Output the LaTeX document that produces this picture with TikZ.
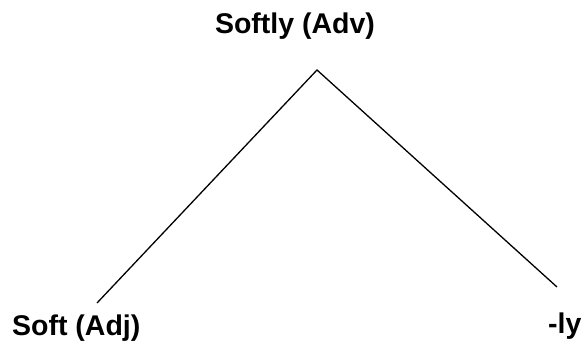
\documentclass[tikz,border=0pt]{standalone}
\usepackage{fontspec}
\setmainfont{Liberation Sans}
\begin{document}
\begin{tikzpicture}[x=1pt,y=-1pt,
  word/.style={font=\bfseries\fontsize{28.5}{30}\selectfont, inner sep=0pt},
  branch/.style={line width=1.3pt, black}]
\useasboundingbox (0,0) rectangle (583,342);
% labels
\node[word, anchor=base] (whole) at (295,34) {Softly (Adv)};
\node[word, anchor=base west] (stem) at (12,335) {Soft (Adj)};
\node[word, anchor=base west] (suffix) at (548,333) {-ly};
% branch points
\coordinate (apex) at (317,70);
\coordinate (stemend) at (97,303);
\coordinate (suffixend) at (557,287);
\draw[branch] (stemend) -- (apex) -- (suffixend);
\end{tikzpicture}
\end{document}
